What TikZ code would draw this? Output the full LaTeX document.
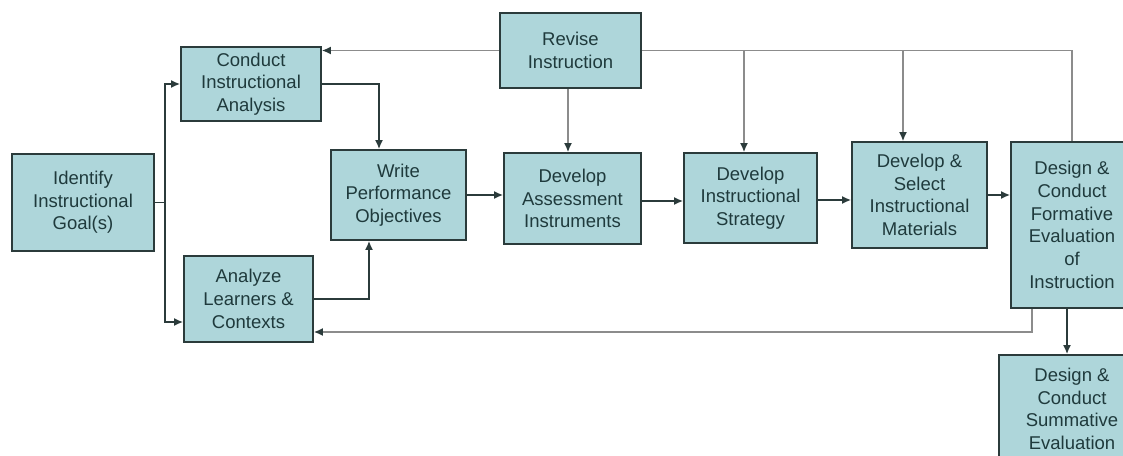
\documentclass[tikz,border=0pt]{standalone}
\usepackage{fontspec}
\setmainfont{Liberation Sans}
\usepackage{tikz}
\usetikzlibrary{arrows.meta}
\definecolor{boxfill}{HTML}{AED6DA}
\definecolor{boxline}{HTML}{2B3B3B}
\definecolor{boxtext}{HTML}{1F3A3C}
\definecolor{fbgray}{HTML}{8C8C8C}

\begin{document}
\begin{tikzpicture}
[
x=1pt, y=-1pt,
stage/.style={draw=boxline, fill=boxfill, line width=1.8pt, align=center,
	text=boxtext, inner sep=0pt,
	font=\fontsize{18.5}{22.7}\selectfont},
flow/.style={draw=boxline, line width=1.6pt, -{Latex[length=9pt,width=8pt]}},
fb/.style={draw=fbgray, line width=1.4pt},
fbarrow/.style={fb, -{Latex[length=9pt,width=8pt,color=boxline]}}
]
\useasboundingbox (0,0) rectangle (1123,455);
\clip (0,0) rectangle (1123,455);
\fill[white] (0,0) rectangle (1123,455);

\node[stage, minimum width=142pt, minimum height=97pt] (goal) at (83,202.5)
	{Identify\\Instructional\\Goal(s)};
\node[stage, minimum width=140pt, minimum height=74pt] (analysis) at (251,84)
	{Conduct\\Instructional\\Analysis};
\node[stage, minimum width=129pt, minimum height=86pt] (learners) at (248.5,299)
	{Analyze\\Learners \&\\Contexts};
\node[stage, minimum width=135pt, minimum height=90pt] (objectives) at (398.5,195)
	{Write\\Performance\\Objectives};
\node[stage, minimum width=141pt, minimum height=75pt] (revise) at (570.5,50.5)
	{Revise\\Instruction};
\node[stage, minimum width=137pt, minimum height=91pt] (assess) at (572.5,198.5)
	{Develop\\Assessment\\Instruments};
\node[stage, minimum width=133pt, minimum height=90pt] (strategy) at (750.5,198)
	{Develop\\Instructional\\Strategy};
\node[stage, minimum width=135pt, minimum height=106pt] (materials) at (919.5,195)
	{Develop \&\\Select\\Instructional\\Materials};
\node[stage, minimum width=122pt, minimum height=166pt] (formative) at (1072,225)
	{Design \&\\Conduct\\Formative\\Evaluation\\of\\Instruction};
\node[stage, minimum width=146pt, minimum height=108pt] (summative) at (1072,409)
	{Design \&\\Conduct\\Summative\\Evaluation};

\draw[flow] (goal.east) -- ++(10,0) |- (analysis.west);
\draw[flow] (goal.east) -- ++(10,0) |- ([yshift=-23pt]learners.west);
\draw[flow] (analysis.east) -| ([xshift=-19.5pt]objectives.north);
\draw[flow] (learners.east) -| ([xshift=-29.5pt]objectives.south);
\draw[flow] (objectives.east) -- (objectives.east -| assess.west);
\draw[flow] ([yshift=-2.5pt]assess.east) -- ([yshift=-2.5pt]assess.east -| strategy.west);
\draw[flow] ([yshift=-2pt]strategy.east) -- ([yshift=-2pt]strategy.east -| materials.west);
\draw[flow] (materials.east) -- (materials.east -| formative.west);
\draw[flow] ([xshift=-5pt]formative.south) -- ([xshift=-5pt]summative.north);

\draw[fbarrow] ([xshift=-2.5pt]revise.south) -- ([xshift=-2.5pt]revise.south |- assess.north);
\draw[fbarrow] (revise.west) -- (revise.west -| analysis.east);
\draw[fb] (revise.east) -| (formative.north);
\draw[fbarrow] ([xshift=-6.5pt]strategy.north |- revise.east) -- ([xshift=-6.5pt]strategy.north);
\draw[fbarrow] ([xshift=-16.5pt]materials.north |- revise.east) -- ([xshift=-16.5pt]materials.north);
\draw[fbarrow] ([xshift=-40pt]formative.south) |- ([yshift=-33pt]learners.east);
\end{tikzpicture}
\end{document}
